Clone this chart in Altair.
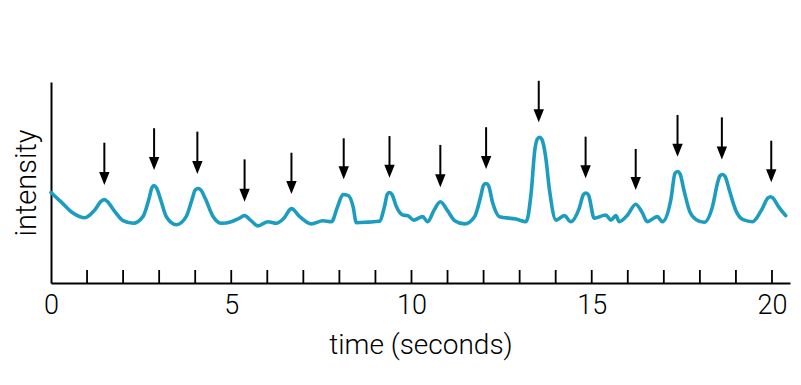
import altair as alt
import pandas as pd

# ---- data ----
time_s = [0, 0.3, 0.6, 0.94, 1.2, 1.4, 1.48, 1.56, 1.75, 2.0, 2.28, 2.55, 2.72, 2.8, 2.86, 2.93, 3.05, 3.2,
          3.48, 3.75, 3.92, 4.0, 4.08, 4.16, 4.28, 4.5, 4.73, 5.0, 5.2, 5.37, 5.55, 5.74, 6.02,
          6.25, 6.45, 6.67, 6.9, 7.22, 7.54, 7.78, 7.95, 8.1, 8.25, 8.38, 8.47, 8.8,
          9.11, 9.25, 9.33, 9.39, 9.46, 9.58, 9.76, 9.9, 10.06, 10.31, 10.45, 10.62, 10.8, 11.0,
          11.2, 11.47, 11.75, 11.92, 12.0, 12.07, 12.14, 12.25, 12.44, 12.9, 13.18, 13.32, 13.42,
          13.49, 13.55, 13.62, 13.72, 13.83, 14.01, 14.24, 14.42, 14.65, 14.77, 14.84, 14.91, 15.07, 15.39,
          15.53, 15.67, 15.76, 16.0, 16.22, 16.4, 16.54, 16.82, 16.96, 17.2, 17.31, 17.38,
          17.45, 17.56, 17.72, 17.9, 18.12, 18.35, 18.5, 18.56, 18.63, 18.7, 18.82, 19.0, 19.2, 19.46,
          19.7, 19.89, 19.96, 20.03, 20.18, 20.38]
intensity = [45, 40, 35, 32.5, 36, 40.8, 41.5, 40.6, 36, 31, 29.7, 33, 42, 47.5, 48.5, 47.2, 41, 33,
             29, 33, 42, 46.3, 47, 46.2, 42, 33, 29.7, 30.5, 32, 33.5, 31, 28.4, 30.5,
             29.7, 32, 37, 33, 29.4, 31, 30.5, 38, 44, 43.5, 38, 30, 30.3,
             30.7, 38, 44.2, 45, 44, 38, 33.8, 33.5, 31.3, 33, 30.5, 36, 40.4, 36,
             31, 29.4, 33, 43, 48.7, 49.5, 48.3, 40, 33, 31.8, 30.5, 45, 66,
             71.6, 72.5, 71.3, 63, 46, 31.3, 33.5, 30.5, 37, 44, 44.8, 43.8, 32.2, 33.8,
             31.3, 33.5, 30.5, 34, 39.2, 35, 30.5, 33, 30.5, 42, 54.6, 55.5,
             54.3, 46, 35.5, 31.5, 30.2, 38, 50.5, 53.4, 54, 53, 46, 36, 31.5, 30.5,
             36, 42.3, 42.9, 42.2, 38, 33.5]

arrow_time = [1.48, 2.86, 4.06, 5.37, 6.67, 8.12, 9.39, 10.8, 12.07, 13.53,
              14.83, 16.22, 17.38, 18.61, 19.98]
arrow_tip = [48.8, 56.2, 54.2, 40.4, 44.3, 51.6, 52.4, 47.6, 56.7, 80.0,
             52.1, 46.3, 62.8, 61.5, 50.1]
arrow_top = [69.8, 77.0, 75.3, 61.5, 64.8, 72.0, 73.1, 68.7, 77.5, 100.6,
             72.8, 66.7, 83.6, 82.4, 70.8]

minor_ticks = list(range(1, 21))
label_ticks = [0, 5, 10, 15, 20]

signal = pd.DataFrame({"t": time_s, "v": intensity})
arrows = pd.DataFrame({"t": arrow_time, "tip": arrow_tip, "top": arrow_top})
ticks = pd.DataFrame({"t": minor_ticks})

FONT = "Roboto"
W, H = 739, 201

xscale = alt.Scale(domain=[0, 20.5], nice=False, zero=False)
yscale = alt.Scale(domain=[0, 100], nice=False)

xaxis = alt.Axis(values=label_ticks, tickSize=0, domainColor="black", domainWidth=2,
                 labelFont=FONT, labelFontSize=27, labelFontWeight=300, labelColor="black",
                 labelPadding=9, grid=False, title="time (seconds)",
                 titleFont=FONT, titleFontSize=28, titleFontWeight=300, titleColor="black",
                 titlePadding=13, labelFlush=False)
yaxis = alt.Axis(labels=False, ticks=False, grid=False, domainColor="black", domainWidth=2,
                 title="intensity", titleFont=FONT, titleFontSize=29, titleFontWeight=300,
                 titleColor="black", titlePadding=10)

line = alt.Chart(signal).mark_line(
    interpolate="monotone", color="#1C9DC0", strokeWidth=3.6,
    strokeCap="round", strokeJoin="round"
).encode(
    x=alt.X("t:Q", scale=xscale, axis=xaxis),
    y=alt.Y("v:Q", scale=yscale, axis=yaxis),
)

tick_marks = alt.Chart(ticks).mark_rule(color="black", strokeWidth=1.8).encode(
    x=alt.X("t:Q", scale=xscale),
    y=alt.value(H),
    y2=alt.value(H - 13),
)

shafts = alt.Chart(arrows).mark_rule(color="black", strokeWidth=2, y2Offset=-6).encode(
    x=alt.X("t:Q", scale=xscale),
    y=alt.Y("top:Q", scale=yscale),
    y2="tip:Q",
)

heads = alt.Chart(arrows).mark_point(
    shape="M0,0L-0.4,-1L0.4,-1Z", filled=True, color="black", opacity=1,
    size=676, strokeWidth=0
).encode(
    x=alt.X("t:Q", scale=xscale),
    y=alt.Y("tip:Q", scale=yscale),
)

chart = alt.layer(line, tick_marks, shafts, heads).properties(
    width=W, height=H,
    autosize=alt.AutoSizeParams(type="none"),
    padding={"left": 43, "top": 74, "right": 3, "bottom": 94},
    background="white",
).configure_view(stroke=None)

chart.save("out.html", embed_options={"renderer": "svg", "actions": False})
